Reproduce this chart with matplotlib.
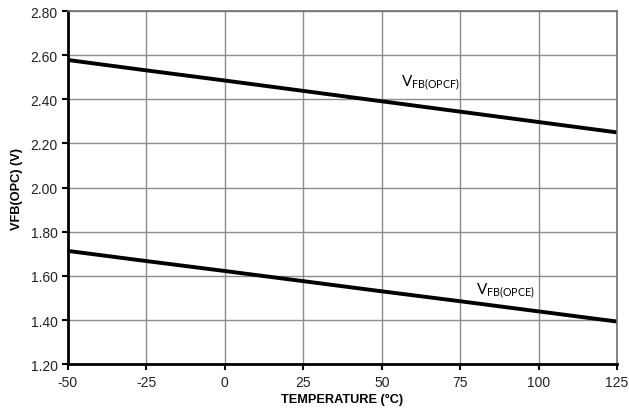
import matplotlib
matplotlib.use("Agg")
import matplotlib.pyplot as plt

# temperature (degC) and feedback voltages
temp = [-50, -25, 0, 25, 50, 75, 100, 125]
v_opcf = [2.578, 2.531, 2.485, 2.438, 2.391, 2.344, 2.297, 2.250]
v_opce = [1.713, 1.667, 1.622, 1.576, 1.530, 1.485, 1.439, 1.393]

xticks = [-50, -25, 0, 25, 50, 75, 100, 125]
yticks = [1.20, 1.40, 1.60, 1.80, 2.00, 2.20, 2.40, 2.60, 2.80]

plt.rcParams['font.family'] = ['Liberation Sans', 'DejaVu Sans']
plt.rcParams['axes.unicode_minus'] = False

fig = plt.figure(figsize=(6.29, 4.14), dpi=100)
ax = fig.add_axes([0.108, 0.118, 0.873, 0.853])

ax.plot(temp, v_opcf, color='black', lw=2.8, solid_capstyle='butt')
ax.plot(temp, v_opce, color='black', lw=2.8, solid_capstyle='butt')

ax.set_xlim(-50, 125)
ax.set_ylim(1.2, 2.8)
ax.set_xticks(xticks)
ax.set_yticks(yticks)
ax.set_yticklabels(['%.2f' % v for v in yticks])
ax.tick_params(labelsize=10, color='black', length=4, width=1.5, colors='#222222')
ax.grid(True, color='#8c8c8c', lw=1)
ax.set_axisbelow(True)

for s in ('left', 'bottom'):
    ax.spines[s].set_linewidth(2)
    ax.spines[s].set_color('black')
for s in ('top', 'right'):
    ax.spines[s].set_linewidth(1.2)
    ax.spines[s].set_color('#707070')

ax.set_xlabel('TEMPERATURE (°C)', fontsize=9.2, fontweight='bold', labelpad=3)
ax.set_ylabel('VFB(OPC) (V)', fontsize=9.2, fontweight='bold', labelpad=5)

ax.text(56, 2.46, r'V$_{\mathregular{FB(OPCF)}}$', fontsize=11, family='Lato')
ax.text(80, 1.52, r'V$_{\mathregular{FB(OPCE)}}$', fontsize=11, family='Lato')

fig.savefig('out.png', dpi=100)
